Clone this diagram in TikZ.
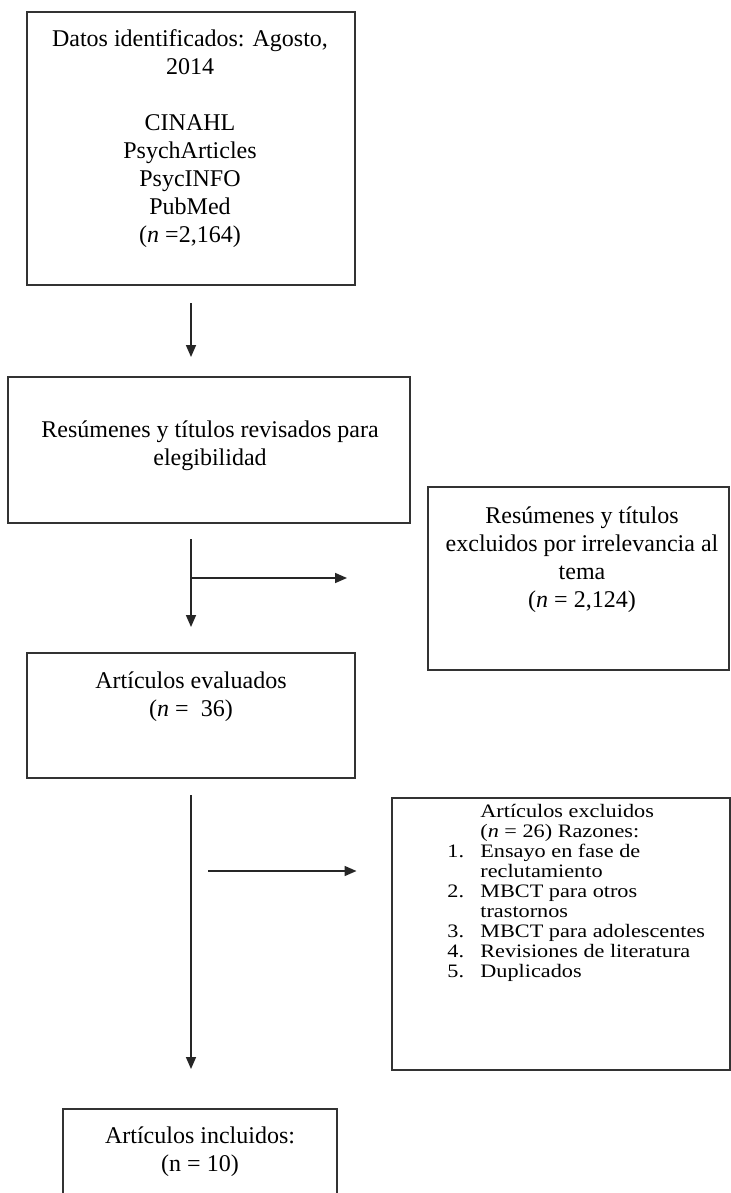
\documentclass[tikz,border=0pt]{standalone}
\usepackage{fontspec}
\setmainfont{Liberation Serif}
\newfontfamily\listfont[FakeStretch=1.17]{Liberation Serif}
\usetikzlibrary{arrows.meta}
\begin{document}
\begin{tikzpicture}[x=0.5pt,y=-0.5pt,
  box/.style={draw=black!80, line width=1pt, inner sep=0pt},
  txt/.style={inner sep=0pt, align=center, font=\fontsize{12pt}{14pt}\selectfont},
  lst/.style={inner sep=0pt, align=left, font=\listfont\fontsize{9.5pt}{10pt}\selectfont},
  arr/.style={draw=black!85, line width=0.8pt, -{Triangle[length=6pt,width=5pt]}}]
\path[use as bounding box] (0,0) rectangle (731,1193);
\clip (0,0) rectangle (731,1193);
\fill[white] (0,0) rectangle (731,1193);

% boxes
\node[box, minimum width=164pt, minimum height=136.5pt] (b1) at (191,148.5) {};
\node[txt] (t1) at (190,139) {Datos identificados: Agosto,\\2014\\[14pt]CINAHL\\PsychArticles\\PsycINFO\\PubMed\\(\textit{n} =2,164)};

\node[box, minimum width=201pt, minimum height=73pt] (b2) at (209,450) {};
\node[txt] (t2) at (210,446) {Resúmenes y títulos revisados para\\elegibilidad};

\node[box, minimum width=150.5pt, minimum height=91.5pt] (b3) at (578.5,578.5) {};
\node[txt] (t3) at (582,559.5) {Resúmenes y títulos\\excluidos por irrelevancia al\\tema\\(\textit{n} = 2,124)};

\node[box, minimum width=164pt, minimum height=62.5pt] (b4) at (191,715.5) {};
\node[txt] (t4) at (191,696.5) {Artículos evaluados\\(\textit{n} =\ \ 36)};

\node[box, minimum width=169pt, minimum height=136pt] (b5) at (560.5,934) {};
\node[lst, anchor=west] (t5) at (447,892.5) {%
\hspace*{16.5pt}Artículos excluidos\\
\hspace*{16.5pt}(\textit{n} = 26) Razones:\\
\makebox[16.5pt][l]{1.}Ensayo en fase de\\
\hspace*{16.5pt}reclutamiento\\
\makebox[16.5pt][l]{2.}MBCT para otros\\
\hspace*{16.5pt}trastornos\\
\makebox[16.5pt][l]{3.}MBCT para adolescentes\\
\makebox[16.5pt][l]{4.}Revisiones de literatura\\
\makebox[16.5pt][l]{5.}Duplicados};

\node[box, minimum width=137pt, minimum height=60.5pt] (b6) at (200,1169.5) {};
\node[txt] (t6) at (200,1151.5) {Artículos incluidos:\\(n = 10)};

% connectors
\coordinate (j1) at (191,578);
\coordinate (j2) at (208,871);
\draw[arr, shorten <=8.5pt, shorten >=9.5pt] (b1.south) -- (b1.south |- b2.north);
\draw[arr, shorten <=7.5pt, shorten >=12.5pt] (b4.north |- b2.south) -- (b4.north);
\draw[arr, shorten >=40pt] (j1) -- (j1 -| b3.west);
\draw[arr, shorten <=8pt, shorten >=19.5pt] (b4.south) -- (b4.south |- b6.north);
\draw[arr, shorten >=17pt] (j2) -- (j2 -| b5.west);
\end{tikzpicture}
\end{document}
